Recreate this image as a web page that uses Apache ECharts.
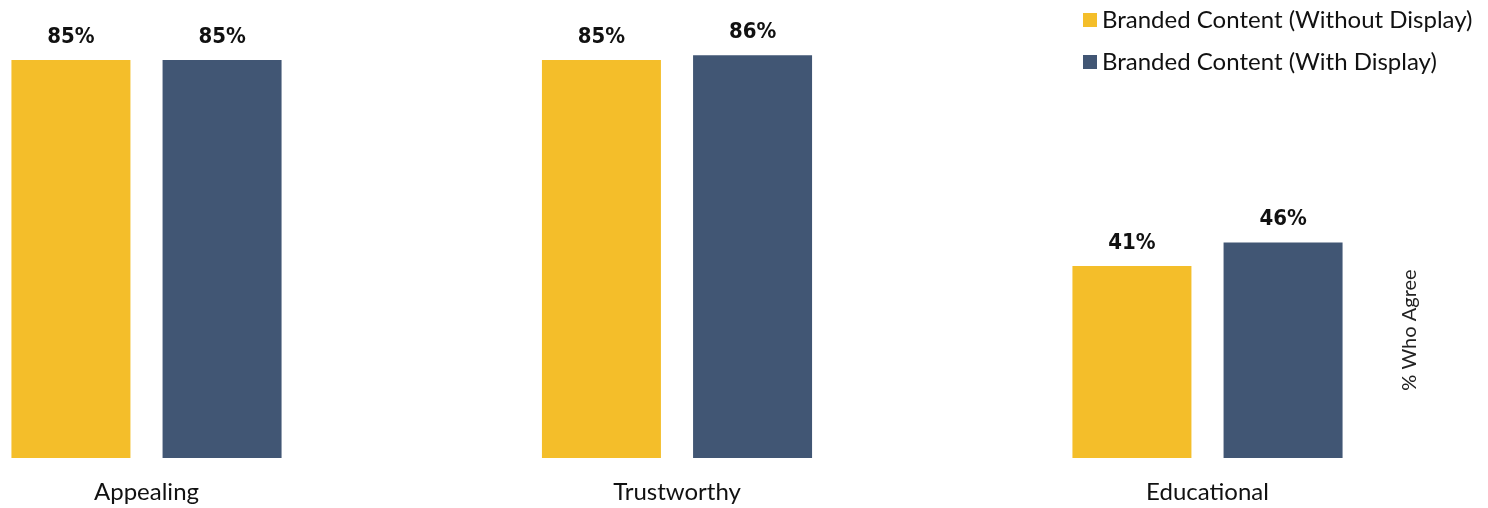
<!DOCTYPE html>
<html>
<head>
<meta charset="utf-8">
<script src="https://cdn.jsdelivr.net/npm/echarts@6/dist/echarts.min.js"></script>
<style>
  html, body { margin: 0; padding: 0; background: #fff; }
  #chart { width: 1488px; height: 508px; }
</style>
</head>
<body>
<div id="chart"></div>
<script>
// data
var categories = ['Appealing', 'Trustworthy', 'Educational'];
var withoutDisplay = [85, 85, 41];
var withDisplay = [85, 86, 46];
var seriesNames = ['Branded Content (Without Display)', 'Branded Content (With Display)'];

var chart = echarts.init(document.getElementById('chart'));
var labelStyle = {
    show: true,
    position: 'top',
    distance: 12,
    formatter: '{c}%',
    color: '#111',
    fontSize: 22,
    fontWeight: 'bold',
    fontFamily: '"DejaVu Sans Condensed", sans-serif'
};
chart.setOption({
    animation: false,
    legend: {
        data: seriesNames,
        orient: 'vertical',
        left: 1078,
        top: 3,
        itemWidth: 14,
        itemHeight: 14,
        itemGap: 18,
        icon: 'rect',
        textStyle: { fontSize: 24, color: '#111', fontFamily: 'Lato, "Open Sans", sans-serif' }
    },
    // ticks sit on the bar-group centres
    grid: { left: 146.5, right: 280.5, top: 0, bottom: 50 },
    xAxis: {
        type: 'category',
        data: categories,
        boundaryGap: false,
        axisLine: { show: false },
        axisTick: { show: false },
        axisLabel: { fontSize: 24, color: '#111', margin: 22, fontFamily: 'Lato, "Open Sans", sans-serif' }
    },
    yAxis: {
        type: 'value',
        min: 0,
        max: 97.8,
        show: false
    },
    graphic: [{
        type: 'text',
        x: 1410,
        y: 330,
        rotation: Math.PI / 2,
        style: {
            text: '% Who Agree',
            fontSize: 20,
            fill: '#222',
            fontFamily: 'Lato, "Open Sans", sans-serif',
            align: 'center',
            verticalAlign: 'middle'
        }
    }],
    series: [{
        name: seriesNames[0],
        type: 'bar',
        data: withoutDisplay,
        barWidth: 119,
        barGap: '27%',
        itemStyle: { color: '#F4BE2A' },
        label: labelStyle
    }, {
        name: seriesNames[1],
        type: 'bar',
        data: withDisplay,
        barWidth: 119,
        itemStyle: { color: '#415674' },
        label: labelStyle
    }]
});
</script>
</body>
</html>
